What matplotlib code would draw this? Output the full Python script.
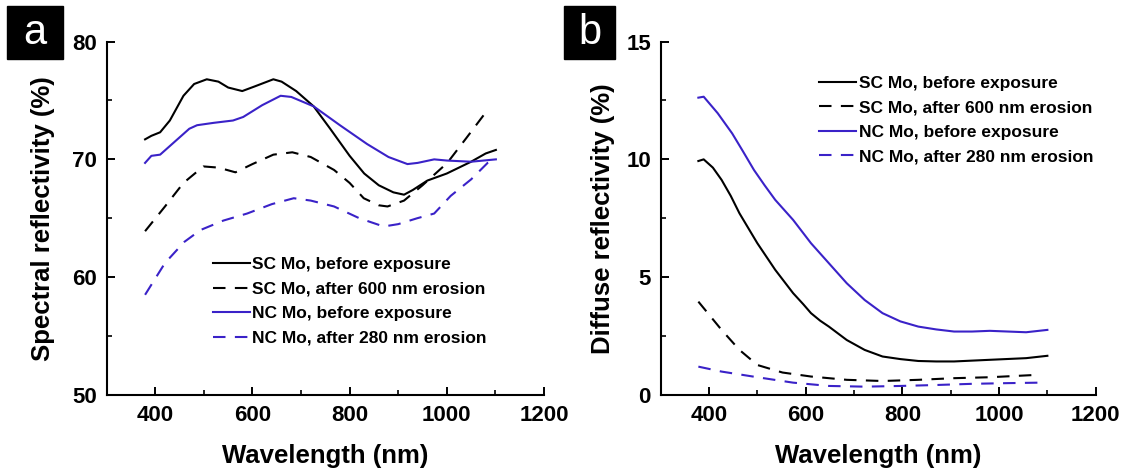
import matplotlib
matplotlib.use("Agg")
import matplotlib.pyplot as plt
from matplotlib.ticker import MultipleLocator
from matplotlib.patches import Rectangle

plt.rcParams['font.family'] = ['Liberation Sans', 'DejaVu Sans']
plt.rcParams['font.weight'] = 'bold'

BLUE = '#3a22c8'
DASH = (0, (6, 4.5))

labels = ['SC Mo, before exposure', 'SC Mo, after 600 nm erosion',
          'NC Mo, before exposure', 'NC Mo, after 280 nm erosion']

# panel a: spectral reflectivity
a_sc_before_x = [379, 392, 410, 430, 458, 480, 506, 530, 550, 579, 605, 643, 660, 690, 726,
                 760, 800, 830, 860, 890, 912, 930, 960, 1000, 1050, 1080, 1101]
a_sc_before_y = [71.7, 72.0, 72.3, 73.3, 75.4, 76.4, 76.8, 76.6, 76.1, 75.8, 76.2, 76.8, 76.6, 75.8, 74.5,
                 72.6, 70.3, 68.8, 67.8, 67.2, 67.0, 67.4, 68.2, 68.8, 69.8, 70.5, 70.8]

a_sc_after_x = [379, 420, 458, 499, 530, 565, 600, 643, 682, 720, 768, 800, 829, 860, 878,
                912, 950, 1001, 1040, 1084]
a_sc_after_y = [63.9, 66.0, 68.0, 69.4, 69.3, 68.9, 69.6, 70.4, 70.6, 70.2, 69.1, 68.0, 66.7, 66.1, 66.0,
                66.5, 67.8, 69.7, 71.8, 74.2]

a_nc_before_x = [379, 392, 410, 440, 470, 486, 520, 560, 581, 620, 658, 680, 726, 780, 836,
                 880, 919, 940, 974, 1000, 1050, 1101]
a_nc_before_y = [69.7, 70.3, 70.4, 71.5, 72.6, 72.9, 73.1, 73.3, 73.6, 74.6, 75.4, 75.3, 74.5, 72.9, 71.3,
                 70.2, 69.6, 69.7, 70.0, 69.9, 69.8, 70.0]

a_nc_after_x = [379, 420, 460, 493, 540, 589, 640, 685, 720, 768, 820, 870, 900, 939, 974,
                1008, 1050, 1084, 1100]
a_nc_after_y = [58.5, 61.2, 63.0, 64.0, 64.8, 65.4, 66.2, 66.7, 66.5, 66.0, 65.0, 64.3, 64.5, 65.0, 65.4,
                66.9, 68.3, 69.7, 70.0]

# panel b: diffuse reflectivity
b_sc_before_x = [378, 389, 408, 426, 445, 463, 500, 537, 574, 595, 611, 630, 648, 685, 722, 759, 796,
                 833, 870, 907, 981, 1056, 1100]
b_sc_before_y = [9.93, 10.0, 9.65, 9.13, 8.45, 7.71, 6.44, 5.31, 4.32, 3.85, 3.47, 3.15, 2.90, 2.33,
                 1.91, 1.63, 1.52, 1.44, 1.42, 1.42, 1.49, 1.56, 1.66]

b_sc_after_x = [378, 426, 463, 500, 552, 611, 685, 759, 833, 907, 981, 1078]
b_sc_after_y = [3.96, 2.76, 1.91, 1.27, 0.95, 0.78, 0.64, 0.59, 0.64, 0.71, 0.75, 0.85]

b_nc_before_x = [378, 389, 418, 448, 470, 493, 515, 537, 574, 611, 648, 685, 722, 759, 796, 833, 870,
                 907, 944, 981, 1056, 1100]
b_nc_before_y = [12.62, 12.66, 11.96, 11.1, 10.35, 9.55, 8.9, 8.28, 7.43, 6.44, 5.59, 4.74, 4.03, 3.47,
                 3.12, 2.90, 2.78, 2.69, 2.69, 2.72, 2.66, 2.76]

b_nc_after_x = [378, 426, 500, 574, 648, 722, 796, 870, 944, 1019, 1085]
b_nc_after_y = [1.20, 0.99, 0.75, 0.52, 0.38, 0.35, 0.38, 0.42, 0.47, 0.50, 0.52]

fig = plt.figure(figsize=(11.23, 4.69), dpi=100)
ax_a = fig.add_axes([0.095, 0.158, 0.3894, 0.7533])
ax_b = fig.add_axes([0.5883, 0.158, 0.3874, 0.7533])


def style(ax, ylim, ymaj, ymin, ylabel, labelpad):
    ax.set_xlim(300, 1200)
    ax.set_ylim(*ylim)
    ax.yaxis.set_major_locator(MultipleLocator(ymaj))
    ax.yaxis.set_minor_locator(MultipleLocator(ymin))
    ax.set_xticks([400, 600, 800, 1000, 1200])
    ax.set_xticks([500, 700, 900, 1100], minor=True)
    for s in ['top', 'right']:
        ax.spines[s].set_visible(False)
    for s in ['left', 'bottom']:
        ax.spines[s].set_linewidth(1.5)
    ax.tick_params(which='major', direction='in', length=6, width=1.4, labelsize=16, pad=7)
    ax.tick_params(which='minor', direction='in', length=3.5, width=1.2)
    ax.set_xlabel('Wavelength (nm)', fontsize=18.5, fontweight='bold', labelpad=13)
    ax.set_ylabel(ylabel, fontsize=18.5, fontweight='bold', labelpad=labelpad)


style(ax_a, (50, 80), 10, 5, 'Spectral reflectivity (%)', 12)
style(ax_b, (0, 15), 5, 2.5, 'Diffuse reflectivity (%)', 8)

lw = 1.5
ax_a.plot(a_sc_before_x, a_sc_before_y, color='black', lw=lw, label=labels[0])
ax_a.plot(a_sc_after_x, a_sc_after_y, color='black', lw=lw, ls=DASH, label=labels[1])
ax_a.plot(a_nc_before_x, a_nc_before_y, color=BLUE, lw=lw, label=labels[2])
ax_a.plot(a_nc_after_x, a_nc_after_y, color=BLUE, lw=lw, ls=DASH, label=labels[3])

ax_b.plot(b_sc_before_x, b_sc_before_y, color='black', lw=lw, label=labels[0])
ax_b.plot(b_sc_after_x, b_sc_after_y, color='black', lw=lw, ls=DASH, label=labels[1])
ax_b.plot(b_nc_before_x, b_nc_before_y, color=BLUE, lw=lw, label=labels[2])
ax_b.plot(b_nc_after_x, b_nc_after_y, color=BLUE, lw=lw, ls=DASH, label=labels[3])

for ax, anchor in [(ax_a, (0.242, 0.264)), (ax_b, (0.363, 0.778))]:
    ax.legend(loc='center left', bbox_to_anchor=anchor, frameon=False, borderpad=0,
              borderaxespad=0, handlelength=2.15, handletextpad=0.15, labelspacing=0.54,
              prop={'size': 12.5, 'weight': 'bold'})

# panel letters
for (x0, w, letter) in [(7, 56, 'a'), (564, 51, 'b')]:
    fig.patches.append(Rectangle((x0 / 1123, 1 - 59 / 469), w / 1123, 53 / 469,
                                 transform=fig.transFigure, color='black'))
    fig.text((x0 + w / 2) / 1123, 1 - 33 / 469, letter, color='white', fontsize=30,
             fontweight='normal', ha='center', va='center')

fig.savefig('out.png', dpi=100)
